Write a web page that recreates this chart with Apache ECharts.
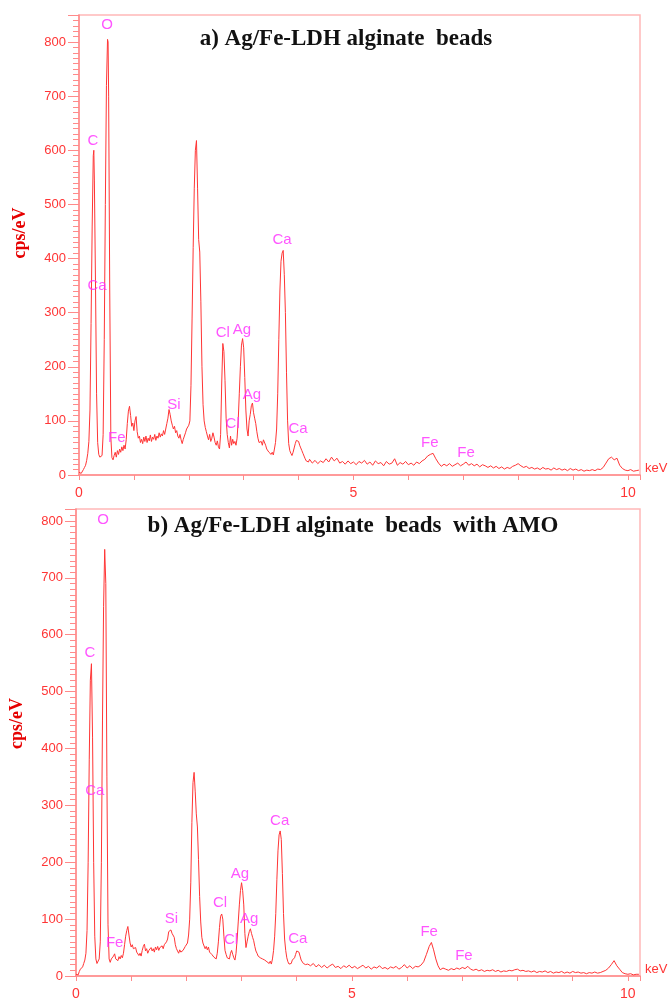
<!DOCTYPE html>
<html>
<head>
<meta charset="utf-8">
<script src="https://cdn.jsdelivr.net/npm/echarts/dist/echarts.min.js"></script>
<style>
html,body{margin:0;padding:0;background:#fff;}
#chart{width:670px;height:1001px;}
</style>
</head>
<body>
<div id="chart"></div>
<script>
// ---- Data ----
const titleA = 'a) Ag/Fe-LDH alginate  beads';
const titleB = 'b) Ag/Fe-LDH alginate  beads  with AMO';
const yTicks = [0, 100, 200, 300, 400, 500, 600, 700, 800];
const xTickLabels = [0, 5, 10];

// spectrum a) : [keV, cps/eV]
const spectrumA = [
[0,5],[0.02,8],[0.04,3],[0.06,6],[0.08,10],[0.1,14],[0.12,18],[0.14,27],[0.16,40],[0.18,62],[0.2,120],[0.22,280],[0.24,460],[0.26,590],[0.27,600],[0.28,545],[0.3,360],[0.32,150],[0.34,60],[0.36,38],[0.38,33],[0.4,31],[0.42,36],[0.44,75],[0.46,250],[0.48,500],[0.5,720],[0.52,805],[0.53,800],[0.54,700],[0.56,340],[0.58,70],[0.6,32],
[0.62,28],[0.64,36],[0.66,42],[0.68,33],[0.7,45],[0.72,38],[0.74,48],[0.76,42],[0.78,52],[0.8,45],[0.82,55],[0.84,48],[0.86,65],[0.88,95],[0.9,118],[0.92,127],[0.94,110],[0.96,90],[0.98,96],[1.0,82],[1.02,100],[1.04,108],[1.06,80],[1.08,68],[1.1,72],[1.12,60],[1.14,66],[1.16,58],[1.18,70],[1.2,62],[1.22,72],[1.24,60],[1.26,68],[1.28,63],[1.3,74],[1.32,62],[1.34,70],[1.36,66],[1.38,75],[1.4,64],[1.42,72],[1.44,68],[1.46,78],[1.48,70],[1.5,76],[1.52,72],[1.54,82],[1.56,75],[1.58,85],[1.6,95],[1.62,105],[1.64,121],[1.66,112],[1.68,100],[1.7,92],[1.72,85],[1.74,90],[1.76,78],[1.78,82],[1.8,72],[1.82,68],[1.84,75],[1.86,65],[1.88,58],[1.9,66],[1.92,72],[1.94,78],[1.96,85],[1.98,88],[2.0,92],[2.02,100],[2.04,165],[2.06,290],[2.08,420],[2.1,530],[2.12,600],[2.14,618],[2.16,530],[2.18,435],[2.2,412],[2.22,320],[2.24,200],[2.26,130],[2.28,100],[2.3,88],[2.32,80],[2.34,72],[2.36,65],[2.38,75],[2.4,62],[2.42,68],[2.44,78],[2.46,70],[2.48,60],[2.5,55],[2.52,63],[2.54,52],[2.56,48],[2.58,75],[2.6,170],[2.62,243],[2.64,228],[2.66,175],[2.68,105],[2.7,75],[2.72,60],[2.74,50],[2.76,72],[2.78,55],[2.8,66],[2.82,58],[2.84,62],[2.86,55],[2.88,68],[2.9,100],[2.92,150],[2.94,200],[2.96,240],[2.98,252],[3.0,235],[3.02,180],[3.04,120],[3.06,85],[3.08,72],[3.1,100],[3.12,112],[3.14,128],[3.16,133],[3.18,115],[3.2,105],[3.22,95],[3.24,80],[3.26,68],[3.28,60],[3.3,58],[3.32,62],[3.34,55],[3.36,65],[3.38,62],[3.4,55],[3.42,48],[3.44,50],[3.46,42],[3.48,45],[3.5,38],[3.52,42],[3.54,37],[3.56,48],[3.58,60],[3.6,85],[3.62,150],[3.64,250],[3.66,340],[3.68,395],[3.7,410],[3.72,415],[3.74,370],[3.76,300],[3.78,190],[3.8,100],[3.82,58],[3.84,45],[3.86,40],[3.88,36],[3.9,42],[3.92,50],[3.94,58],[3.96,64],[3.98,67],[4.0,62],[4.02,55],[4.04,50],[4.06,45],[4.08,40],[4.1,35],[4.12,30],[4.14,26],[4.16,28],[4.18,24],[4.2,29],
[4.25,22],[4.3,27],[4.35,21],[4.4,26],[4.45,23],[4.5,30],[4.55,24],[4.6,33],[4.65,26],[4.7,31],[4.75,22],[4.8,25],[4.85,20],[4.9,26],[4.95,21],[5.0,24],[5.05,19],[5.1,25],[5.15,22],[5.2,27],[5.25,20],[5.3,24],[5.35,18],[5.4,26],[5.45,21],[5.5,23],[5.55,17],[5.6,25],[5.65,20],[5.7,22],[5.75,30],[5.8,18],[5.85,23],[5.9,20],[5.95,25],[6.0,19],[6.05,22],[6.1,18],[6.15,24],[6.2,21],[6.25,26],[6.3,29],[6.35,35],[6.4,38],[6.45,40],[6.5,30],[6.55,22],[6.6,16],[6.65,20],[6.7,17],[6.75,21],[6.8,16],[6.85,19],[6.9,22],[6.95,17],[7.0,20],[7.05,24],[7.1,18],[7.15,21],[7.2,17],[7.25,20],[7.3,15],[7.35,19],[7.4,17],[7.45,14],[7.5,17],[7.55,13],[7.6,16],[7.65,12],[7.7,15],[7.75,11],[7.8,14],[7.85,12],[7.9,16],[7.95,18],[8.0,21],[8.05,17],[8.1,14],[8.15,16],[8.2,12],[8.25,14],[8.3,11],[8.35,13],[8.4,10],[8.45,14],[8.5,11],[8.55,12],[8.6,9],[8.65,13],[8.7,10],[8.75,12],[8.8,9],[8.85,11],[8.9,8],[8.95,12],[9.0,9],[9.05,11],[9.1,8],[9.15,10],[9.2,7],[9.25,9],[9.3,8],[9.35,10],[9.4,8],[9.45,11],[9.5,10],[9.55,14],[9.6,22],[9.65,30],[9.7,33],[9.75,28],[9.8,31],[9.85,18],[9.9,12],[9.95,9],[10.0,8],[10.05,10],[10.1,7],[10.15,8],[10.2,9]
];

// spectrum b) : [keV, cps/eV]
const spectrumB = [
[0,3],[0.02,6],[0.04,2],[0.06,8],[0.08,12],[0.1,15],[0.12,16],[0.14,22],[0.16,28],[0.18,40],[0.2,80],[0.22,200],[0.24,380],[0.26,520],[0.28,549],[0.3,420],[0.32,200],[0.34,70],[0.36,30],[0.38,22],[0.4,25],[0.42,30],[0.44,60],[0.46,200],[0.48,450],[0.5,650],[0.52,750],[0.54,690],[0.56,350],[0.58,90],[0.6,30],
[0.62,24],[0.64,30],[0.66,27],[0.68,35],[0.7,39],[0.72,30],[0.74,33],[0.76,27],[0.78,34],[0.8,30],[0.82,36],[0.84,32],[0.86,40],[0.88,55],[0.9,70],[0.92,80],[0.94,87],[0.96,72],[0.98,58],[1.0,51],[1.02,55],[1.04,48],[1.06,45],[1.08,50],[1.1,42],[1.12,45],[1.14,36],[1.16,40],[1.18,35],[1.2,45],[1.22,52],[1.24,56],[1.26,44],[1.28,48],[1.3,40],[1.32,45],[1.34,42],[1.36,50],[1.38,44],[1.4,48],[1.42,42],[1.44,51],[1.46,46],[1.48,52],[1.5,45],[1.52,50],[1.54,47],[1.56,53],[1.58,48],[1.6,55],[1.62,52],[1.64,60],[1.66,65],[1.68,78],[1.7,80],[1.72,81],[1.74,75],[1.76,78],[1.78,68],[1.8,55],[1.82,48],[1.84,45],[1.86,40],[1.88,46],[1.9,42],[1.92,40],[1.94,45],[1.96,48],[1.98,52],[2.0,55],[2.02,58],[2.04,72],[2.06,100],[2.08,165],[2.1,270],[2.12,340],[2.14,358],[2.16,325],[2.18,285],[2.2,262],[2.22,205],[2.24,140],[2.26,95],[2.28,68],[2.3,58],[2.32,55],[2.34,48],[2.36,52],[2.38,46],[2.4,51],[2.42,42],[2.44,45],[2.46,38],[2.48,36],[2.5,33],[2.52,35],[2.54,30],[2.56,40],[2.58,60],[2.6,85],[2.62,105],[2.64,109],[2.66,100],[2.68,70],[2.7,45],[2.72,38],[2.74,32],[2.76,35],[2.78,30],[2.8,40],[2.82,45],[2.84,38],[2.86,32],[2.88,28],[2.9,40],[2.92,65],[2.94,95],[2.96,125],[2.98,150],[3.0,164],[3.02,150],[3.04,125],[3.06,75],[3.08,50],[3.1,60],[3.12,70],[3.14,78],[3.16,83],[3.18,75],[3.2,68],[3.22,62],[3.24,52],[3.26,44],[3.28,40],[3.3,35],[3.32,38],[3.34,32],[3.36,35],[3.38,30],[3.4,33],[3.42,28],[3.44,30],[3.46,25],[3.48,28],[3.5,22],[3.52,26],[3.54,21],[3.56,30],[3.58,45],[3.6,70],[3.62,110],[3.64,170],[3.66,220],[3.68,248],[3.7,255],[3.72,240],[3.74,180],[3.76,110],[3.78,65],[3.8,45],[3.82,32],[3.84,25],[3.86,21],[3.88,24],[3.9,22],[3.92,28],[3.94,27],[3.96,32],[3.98,38],[4.0,44],[4.02,47],[4.04,42],[4.06,35],[4.08,28],[4.1,27],[4.12,22],[4.14,24],[4.16,20],[4.18,23],[4.2,21],
[4.25,18],[4.3,22],[4.35,16],[4.4,20],[4.45,15],[4.5,19],[4.55,14],[4.6,18],[4.65,21],[4.7,15],[4.75,17],[4.8,13],[4.85,18],[4.9,15],[4.95,19],[5.0,14],[5.05,17],[5.1,13],[5.15,16],[5.2,19],[5.25,14],[5.3,17],[5.35,12],[5.4,16],[5.45,14],[5.5,18],[5.55,13],[5.6,15],[5.65,12],[5.7,16],[5.75,14],[5.8,17],[5.85,12],[5.9,15],[5.95,20],[6.0,14],[6.05,18],[6.1,13],[6.15,17],[6.2,16],[6.25,19],[6.3,25],[6.35,38],[6.4,52],[6.44,59],[6.48,46],[6.52,30],[6.56,18],[6.6,11],[6.65,14],[6.7,12],[6.75,10],[6.8,13],[6.85,11],[6.9,14],[6.95,12],[7.0,15],[7.05,13],[7.1,17],[7.15,12],[7.2,10],[7.25,12],[7.3,9],[7.35,11],[7.4,8],[7.45,10],[7.5,9],[7.55,11],[7.6,8],[7.65,10],[7.7,7],[7.75,9],[7.8,8],[7.85,10],[7.9,9],[7.95,11],[8.0,12],[8.05,9],[8.1,10],[8.15,8],[8.2,9],[8.25,7],[8.3,9],[8.35,6],[8.4,8],[8.45,7],[8.5,9],[8.55,6],[8.6,8],[8.65,5],[8.7,7],[8.75,6],[8.8,8],[8.85,5],[8.9,7],[8.95,5],[9.0,8],[9.05,6],[9.1,7],[9.15,5],[9.2,6],[9.25,4],[9.3,6],[9.35,5],[9.4,7],[9.45,5],[9.5,6],[9.55,8],[9.6,10],[9.65,14],[9.7,20],[9.75,27],[9.8,18],[9.85,12],[9.9,6],[9.95,4],[10.0,3],[10.05,4],[10.1,2],[10.15,3],[10.2,3]
];

// element labels: [text, keV, cps/eV]
const peakLabelsA = [
['O',0.51,832],['C',0.255,618],['Ca',0.33,349],['Fe',0.69,68],['Si',1.73,129],['Cl',2.62,262],['Ag',2.97,269],['Cl',2.80,94],['Ag',3.15,148],['Ca',3.70,434],['Ca',3.99,85],['Fe',6.39,59],['Fe',7.05,41]
];
const peakLabelsB = [
['O',0.49,802],['C',0.25,568],['Ca',0.34,325],['Fe',0.70,59],['Si',1.73,100],['Cl',2.61,128],['Ag',2.97,180],['Cl',2.81,63],['Ag',3.14,100],['Ca',3.69,273],['Ca',4.02,65],['Fe',6.40,77],['Fe',7.03,35]
];

// ---- Chart ----
const RED = '#ff3535';
const AXIS_RED = '#ff8a8a';
const FRAME = '#ffb8b8';
const MAGENTA = '#ff2bff';
const SANS = '"Liberation Sans", Arial, sans-serif';
const SERIF = '"Liberation Serif", "Times New Roman", serif';

function xAxisCfg(gridIndex) {
  return {
    type: 'value', gridIndex: gridIndex, min: 0, max: 10.22, interval: 1,
    name: 'keV', nameLocation: 'end', nameGap: 5,
    nameTextStyle: { color: RED, fontSize: 13, fontFamily: SANS, verticalAlign: 'bottom' },
    axisLine: { show: true, onZero: false, lineStyle: { color: AXIS_RED, width: 1.5 } },
    axisTick: { show: true, length: 5, lineStyle: { color: AXIS_RED } },
    axisLabel: {
      color: RED, fontSize: 14, fontFamily: SANS, margin: 11,
      formatter: function (v) {
        return xTickLabels.some(t => Math.abs(t - v) < 1e-9) ? String(v) : '';
      }
    },
    splitLine: { show: false }
  };
}
function yAxisCfg(gridIndex, max, shiftUp) {
  return {
    type: 'value', gridIndex: gridIndex, min: yTicks[0], max: max, interval: 100,
    name: 'cps/eV', nameLocation: 'middle', nameGap: 50,
    nameTextStyle: { color: '#e60000', fontSize: 18, fontWeight: 'bold', fontFamily: SERIF,
                     padding: [0, 0, 0, shiftUp * 2] },
    axisLine: { show: true, lineStyle: { color: AXIS_RED, width: 1.5 } },
    axisTick: { show: true, length: 11, lineStyle: { color: AXIS_RED } },
    minorTick: { show: true, splitNumber: 10, length: 6, lineStyle: { color: AXIS_RED } },
    axisLabel: {
      color: RED, fontSize: 13, fontFamily: SANS, margin: 13, showMaxLabel: false,
      formatter: function (v) { return yTicks.indexOf(v) >= 0 ? String(v) : ''; }
    },
    splitLine: { show: false }, minorSplitLine: { show: false }
  };
}
function labelSeries(labels, idx) {
  return {
    type: 'scatter', xAxisIndex: idx, yAxisIndex: idx, silent: true,
    symbolSize: 1, itemStyle: { color: 'rgba(0,0,0,0)' },
    label: {
      show: true, position: 'inside', color: MAGENTA, fontSize: 15, fontFamily: SANS,
      formatter: function (p) { return p.name; }
    },
    data: labels.map(l => ({ name: l[0], value: [l[1], l[2]] })),
    z: 5
  };
}
function lineSeries(data, idx) {
  return {
    type: 'line', xAxisIndex: idx, yAxisIndex: idx, data: data,
    showSymbol: false, symbol: 'none', silent: true,
    lineStyle: { color: RED, width: 1 }, z: 3
  };
}

const chart = echarts.init(document.getElementById('chart'), null, { renderer: 'canvas' });
chart.setOption({
  animation: false,
  backgroundColor: '#fff',
  title: [
    { text: titleA, left: 346, top: 28, textAlign: 'center', padding: 0,
      textStyle: { fontFamily: SERIF, fontWeight: 'bold', fontSize: 23, color: '#111' } },
    { text: titleB, left: 353, top: 515, textAlign: 'center', padding: 0,
      textStyle: { fontFamily: SERIF, fontWeight: 'bold', fontSize: 23, color: '#111' } }
  ],
  grid: [
    { left: 79, top: 15, width: 561, height: 460, show: true, borderColor: FRAME, borderWidth: 1.5, backgroundColor: 'transparent' },
    { left: 73, top: 509, width: 567, height: 470, show: true, borderColor: FRAME, borderWidth: 1.5, backgroundColor: 'transparent' }
  ],
  xAxis: [xAxisCfg(0), xAxisCfg(1)],
  yAxis: [yAxisCfg(0, 850, 12), yAxisCfg(1, 821, 19)],
  series: [
    lineSeries(spectrumA, 0),
    lineSeries(spectrumB, 1),
    labelSeries(peakLabelsA, 0),
    labelSeries(peakLabelsB, 1)
  ]
});
</script>
</body>
</html>
